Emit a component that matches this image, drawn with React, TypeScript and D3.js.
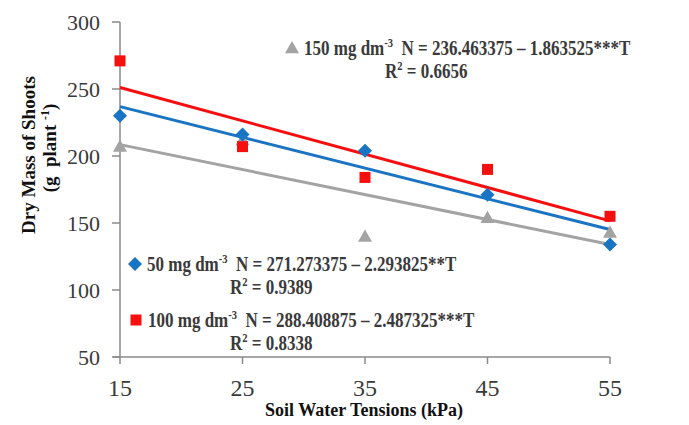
import React from "react";
import * as d3 from "d3";

const tensions = [15, 25, 35, 45, 55];
const xTicks = [15, 25, 35, 45, 55];
const yTicks = [50, 100, 150, 200, 250, 300];

const seriesNames = ["50", "100", "150"];
const blueValues = [230, 216, 204, 171, 134];
const redValues = [271, 207, 184, 190, 155];
const grayValues = [207, 212, 140, 154, 143];

const intercepts = [271.273375, 288.408875, 236.463375];
const slopes = [-2.293825, -2.487325, -1.863525];
const equations = [
  "N = 271.273375 \u2013 2.293825**T",
  "N = 288.408875 \u2013 2.487325***T",
  "N = 236.463375 \u2013 1.863525***T",
];
const r2Values = ["0.9389", "0.8338", "0.6656"];

const BLUE = "#1a74c4";
const RED = "#f50f0f";
const GRAY = "#a3a3a3";
const TEXT = "#3a3a3a";
const FONT = "'Liberation Serif', 'Times New Roman', serif";

const x = d3.scaleLinear().domain([15, 55]).range([120, 610]);
const y = d3.scaleLinear().domain([50, 300]).range([357, 22]);

function Marker({ kind, cx, cy, color }: { kind: string; cx: number; cy: number; color: string }) {
  if (kind === "diamond") {
    const s = 7;
    return <path d={`M${cx},${cy - s}L${cx + s},${cy}L${cx},${cy + s}L${cx - s},${cy}Z`} fill={color} />;
  }
  if (kind === "square") {
    const s = 5.5;
    return <rect x={cx - s} y={cy - s} width={2 * s} height={2 * s} fill={color} />;
  }
  const s = 7;
  return <path d={`M${cx},${cy - s}L${cx + s},${cy + s * 0.75}L${cx - s},${cy + s * 0.75}Z`} fill={color} />;
}

function Legend({ lx, ly, kind, color, name, eq, r2, r2x }: any) {
  return (
    <g>
      <Marker kind={kind} cx={lx} cy={ly - 7} color={color} />
      <g transform={`translate(${lx + 12},${ly}) scale(0.81,1)`}>
        <text x={0} y={0} fontFamily={FONT} fontWeight="bold" fontSize={21} fill={TEXT}>
          {name} mg dm
          <tspan dy={-8} fontSize={13}>-3</tspan>
          <tspan dy={8}>{"\u00a0\u00a0" + eq}</tspan>
        </text>
      </g>
      <g transform={`translate(${r2x},${ly + 23}) scale(0.81,1)`}>
        <text x={0} y={0} fontFamily={FONT} fontWeight="bold" fontSize={21} fill={TEXT}>
          R<tspan dy={-8} fontSize={13}>2</tspan>
          <tspan dy={8}> = {r2}</tspan>
        </text>
      </g>
    </g>
  );
}

export default function App() {
  const all = [blueValues, redValues, grayValues];
  const colors = [BLUE, RED, GRAY];
  const kinds = ["diamond", "square", "triangle"];
  return (
    <svg width={689} height={425} style={{ position: "absolute", left: 0, top: 0, background: "#fff" }}>
      <rect width={689} height={425} fill="#fff" />
      <line x1={120} x2={120} y1={y(300)} y2={y(50)} stroke="#8a8a8a" strokeWidth={1.5} />
      <line x1={113} x2={x(55)} y1={y(50)} y2={y(50)} stroke="#8a8a8a" strokeWidth={1.5} />
      {yTicks.map((t) => (
        <g key={"y" + t}>
          <line x1={112} x2={120} y1={y(t)} y2={y(t)} stroke="#8a8a8a" strokeWidth={1.5} />
          <text x={100} y={y(t) + 7.5} textAnchor="end" fontFamily={FONT} fontSize={22} fill={TEXT}>
            {t}
          </text>
        </g>
      ))}
      {xTicks.map((t) => (
        <g key={"x" + t}>
          <line x1={x(t)} x2={x(t)} y1={y(50)} y2={y(50) + 7} stroke="#8a8a8a" strokeWidth={1.5} />
          <text x={x(t)} y={396} textAnchor="middle" fontFamily={FONT} fontSize={24} fill={TEXT}>
            {t}
          </text>
        </g>
      ))}
      <text x={364} y={416} textAnchor="middle" fontFamily={FONT} fontWeight="bold" fontSize={18} fill="#111">
        Soil Water Tensions (kPa)
      </text>
      <text transform="translate(35,155) rotate(-90)" textAnchor="middle" fontFamily={FONT} fontWeight="bold" fontSize={19} fill="#111">
        Dry Mass of Shoots
      </text>
      <text transform="translate(56,148) rotate(-90)" textAnchor="middle" fontFamily={FONT} fontWeight="bold" fontSize={19} fill="#111">
        (g{"\u00a0\u00a0"}plant <tspan dy={-7} fontSize={12}>-1</tspan>
        <tspan dy={7}>)</tspan>
      </text>
      {intercepts.map((b, i) => (
        <line
          key={"r" + i}
          x1={x(15)}
          x2={x(55)}
          y1={y(b + slopes[i] * 15)}
          y2={y(b + slopes[i] * 55)}
          stroke={colors[i]}
          strokeWidth={3}
        />
      ))}
      {[2, 1, 0].map((si) =>
        all[si].map((v, j) => (
          <Marker key={si + "-" + j} kind={kinds[si]} cx={x(tensions[j])} cy={y(v)} color={colors[si]} />
        ))
      )}
      <Legend lx={292} ly={55} kind="triangle" color={GRAY} name={seriesNames[2]} eq={equations[2]} r2={r2Values[2]} r2x={385} />
      <Legend lx={135} ly={271} kind="diamond" color={BLUE} name={seriesNames[0]} eq={equations[0]} r2={r2Values[0]} r2x={230} />
      <Legend lx={136} ly={327} kind="square" color={RED} name={seriesNames[1]} eq={equations[1]} r2={r2Values[1]} r2x={230} />
    </svg>
  );
}
